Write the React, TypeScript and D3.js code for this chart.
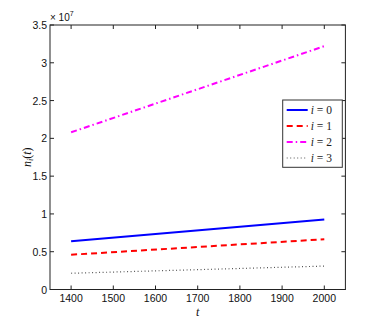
import React from "react";
import * as d3 from "d3";

const years = [1400, 2000];
const seriesNames = ["i = 0", "i = 1", "i = 2", "i = 3"];
const s0 = [0.64e7, 0.925e7];
const s1 = [0.46e7, 0.665e7];
const s2 = [2.08e7, 3.22e7];
const s3 = [0.215e7, 0.31e7];
const xTicks = [1400, 1500, 1600, 1700, 1800, 1900, 2000];
const yTicks = [0, 0.5e7, 1e7, 1.5e7, 2e7, 2.5e7, 3e7, 3.5e7];

const styles = [
  { color: "#0000ff", dash: "", width: 2 },
  { color: "#ff0000", dash: "6,4", width: 2 },
  { color: "#ff00ff", dash: "6,3,1.5,3", width: 2 },
  { color: "#555555", dash: "1,2.5", width: 1.2 },
];

export default function App() {
  const W = 382, H = 327;
  const L = 50, R = 345.4, T = 25, B = 289.5;
  const x = d3.scaleLinear().domain([1350, 2050]).range([L, R]);
  const y = d3.scaleLinear().domain([0, 3.5e7]).range([B, T]);
  const data = [s0, s1, s2, s3];
  const line = d3.line<number>().x((_, i) => x(years[i])).y((d) => y(d));
  const font = "'Liberation Sans', Arial, sans-serif";
  const serif = "'Liberation Serif', 'Times New Roman', serif";
  const lx = 282.7, ly = 100, lw = 59.6, lh = 67.3;
  return (
    <svg width={W} height={H} style={{ position: "absolute", left: 0, top: 0 }}>
      <rect x={0} y={0} width={W} height={H} fill="#fff" />
      <rect x={L} y={T} width={R - L} height={B - T} fill="#fff" stroke="#222" strokeWidth={1} />
      {xTicks.map((t) => (
        <g key={"x" + t}>
          <line x1={x(t)} x2={x(t)} y1={B} y2={B - 4} stroke="#222" />
          <line x1={x(t)} x2={x(t)} y1={T} y2={T + 4} stroke="#222" />
          <text x={x(t)} y={B + 12.5} textAnchor="middle" fontSize={10.5} fontFamily={font} fill="#111">{t}</text>
        </g>
      ))}
      {yTicks.map((t) => (
        <g key={"y" + t}>
          <line x1={L} x2={L + 4} y1={y(t)} y2={y(t)} stroke="#222" />
          <line x1={R} x2={R - 4} y1={y(t)} y2={y(t)} stroke="#222" />
          <text x={L - 3} y={y(t) + 4} textAnchor="end" fontSize={10.5} fontFamily={font} fill="#111">{t / 1e7}</text>
        </g>
      ))}
      <text x={L} y={T - 4} fontSize={10} fontFamily={font} fill="#111">× 10<tspan dy={-5} fontSize={7}>7</tspan></text>
      {data.map((d, i) => (
        <path key={i} d={line(d) || ""} fill="none" stroke={styles[i].color} strokeWidth={styles[i].width} strokeDasharray={styles[i].dash} />
      ))}
      <text x={x(1700)} y={B + 26.5} textAnchor="middle" fontSize={12} fontStyle="italic" fontFamily={serif} fill="#111">t</text>
      <text transform={`translate(31, ${(T + B) / 2}) rotate(-90)`} textAnchor="middle" fontSize={12} fontFamily={serif} fill="#111">
        <tspan fontStyle="italic">n</tspan><tspan fontStyle="italic" fontSize={8} dy={2}>i</tspan><tspan dy={-2}>(</tspan><tspan fontStyle="italic">t</tspan><tspan>)</tspan>
      </text>
      <rect x={lx} y={ly} width={lw} height={lh} fill="#fff" stroke="#333" strokeWidth={1} />
      {seriesNames.map((n, i) => {
        const yy = ly + 10 + i * 16;
        const parts = n.split(" = ");
        return (
          <g key={n}>
            <line x1={lx + 4} x2={lx + 25} y1={yy} y2={yy} stroke={styles[i].color} strokeWidth={styles[i].width} strokeDasharray={styles[i].dash} />
            <text x={lx + 28} y={yy + 4} fontSize={11.5} fontFamily={serif} fill="#222">
              <tspan fontStyle="italic">{parts[0]}</tspan> = {parts[1]}
            </text>
          </g>
        );
      })}
    </svg>
  );
}
